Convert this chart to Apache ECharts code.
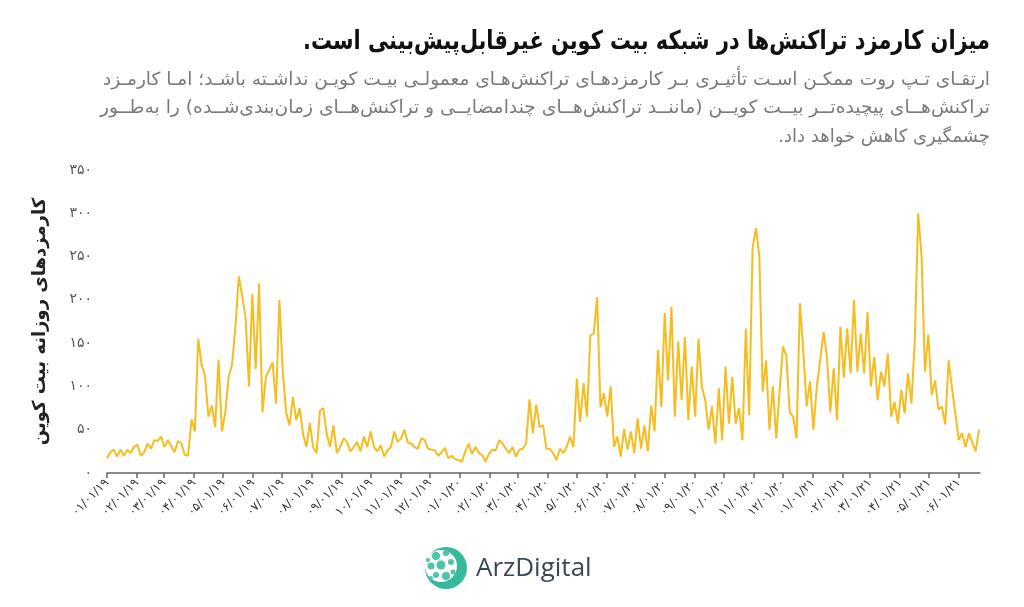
<!DOCTYPE html>
<html><head><meta charset="utf-8">
<script src="https://cdn.jsdelivr.net/npm/echarts@6/dist/echarts.min.js"></script>
<style>html,body{margin:0;padding:0;background:#fff}#c{width:1024px;height:607px}</style>
</head><body><div id="c"></div>
<script>
// ---- data ----
const stepDays = 3.5; // one value every 3.5 days starting 01/01/2019
const fees = [
 17,24,27,19,27,20,27,23, 30,33,20,24,34,28,38,37, 42,30,38,31,24,37,34,21,
 20,62,48,155,125,112,65,78, 53,131,48,70,111,125,169,227, 204,180,100,207,120,219,70,111,
 119,128,80,200,118,70,55,88, 61,75,45,30,58,30,23,72, 75,45,30,55,23,30,40,36,
 25,30,36,25,42,30,48,30, 25,32,19,26,30,48,36,40, 50,35,34,30,28,40,38,28,
 27,26,20,24,29,17,20,16, 15,13,25,34,22,30,23,21, 13,22,27,26,38,34,28,23,
 30,19,27,28,34,85,46,79, 53,55,28,28,23,15,28,23, 30,42,30,109,59,104,65,159,
 161,203,76,92,65,100,30,42, 19,51,27,48,23,63,28,55, 25,78,48,142,76,185,107,192,
 65,152,84,157,61,123,65,155, 100,84,50,77,34,98,38,123, 57,111,57,75,38,167,67,260,
 283,250,94,130,50,100,40,95, 146,135,70,65,40,196,142,77, 106,50,100,130,163,134,70,121,
 61,169,110,167,115,200,117,161, 115,186,100,134,84,117,100,138, 65,82,57,96,69,115,80,154,
 300,250,117,160,90,107,73,77, 56,130,98,69,38,46,30,46, 35,25,50
];
const tickLabels = ['01/01/19','02/01/19','03/01/19','04/01/19','05/01/19','06/01/19','07/01/19','08/01/19','09/01/19','10/01/19','11/01/19','12/01/19',
 '01/01/20','02/01/20','03/01/20','04/01/20','05/01/20','06/01/20','07/01/20','08/01/20','09/01/20','10/01/20','11/01/20','12/01/20',
 '01/01/21','02/01/21','03/01/21','04/01/21','05/01/21','06/01/21'];
const titleText = 'میزان کارمزد تراکنش‌ها در شبکه بیت کوین غیرقابل‌پیش‌بینی است.';
const subtitleLines = [
 'ارتقـای تـپ روت ممکـن اسـت تأثیـری بـر کارمزدهـای تراکنش‌هـای معمولـی بیـت کویـن نداشـته باشـد؛ امـا کارمـزد',
 'تراکنش‌هــای پیچیده‌تــر بیــت کویــن (ماننــد تراکنش‌هــای چندامضایــی و تراکنش‌هــای زمان‌بندی‌شــده) را به‌طــور',
 'چشمگیری کاهش خواهد داد.'
];
const yAxisName = 'کارمزدهای روزانه بیت کوین';
const brand = 'ArzDigital';

// ---- helpers ----
const faDigits = '۰۱۲۳۴۵۶۷۸۹';
function fa(s){ return String(s).replace(/[0-9]/g, d => faDigits[d]); }
const t0 = Date.UTC(2019,0,1);
function dayOf(label){ const p = label.split('/').map(Number); return Math.round((Date.UTC(2000+p[2],p[0]-1,p[1])-t0)/86400000); }
const tickDays = tickLabels.map(dayOf);
const labelOfDay = {}; tickDays.forEach((d,i)=>{ labelOfDay[d] = tickLabels[i]; });
const seriesData = fees.map((v,i)=>[i*stepDays, v]);
const RLM = '\u200F';

const arFont = '"DejaVu Sans", "Noto Sans", sans-serif';
const mctx = document.createElement('canvas').getContext('2d');
function fitScale(text, font, target){ mctx.font = font; const w = mctx.measureText(text).width; return w > 0 ? target / w : 1; }

const chart = echarts.init(document.getElementById('c'), null, {renderer:'canvas'});
const titleFont = 'bold 26px '+arFont;
const subFont = '18px '+arFont;
const graphics = [
  {type:'text', x:990, y:42, scaleX: fitScale(titleText+RLM, titleFont, 687), style:{text: titleText+RLM, font:titleFont, fill:'#111', align:'right', verticalAlign:'middle'}},
];
const subTargets = [887, 890, null];
subtitleLines.forEach((t,i)=>graphics.push({type:'text', x:990, y:80+i*28.5,
  scaleX: subTargets[i] ? fitScale(t+RLM, subFont, subTargets[i]) : 1,
  style:{text:t+RLM, font:subFont, fill:'#7a7a7a', align:'right', verticalAlign:'middle'}}));
// logo
graphics.push({type:'circle', shape:{cx:446,cy:568,r:21}, style:{fill:'#37b99b'}});
graphics.push({type:'circle', shape:{cx:441,cy:566,r:16}, style:{fill:'#fff'}});
[[436,556,4],[446,553,3],[431,566,3.5],[441,565,4.5],[451,562,3],[436,575,3],[446,576,4],[431,578,2],[453,572,2.5],[428,560,2]].forEach(c=>
  graphics.push({type:'circle', shape:{cx:c[0],cy:c[1],r:c[2]}, style:{fill:'#4cc5a8'}}));
graphics.push({type:'text', x:476, y:569, style:{text:brand, font:'26px "Open Sans", Lato, sans-serif', fill:'#3a4856', align:'left', verticalAlign:'middle'}});

chart.setOption({
  animation:false,
  backgroundColor:'#fff',
  grid:{left:107, right:44, top:170, bottom:134, containLabel:false},
  xAxis:{type:'value', min:0, max:904,
    axisLine:{show:true, lineStyle:{color:'#666', width:1.5}},
    axisTick:{show:true, customValues:tickDays, length:5, lineStyle:{color:'#666', width:1.5}},
    axisLabel:{customValues:tickDays, rotate:45, formatter:v=>fa(labelOfDay[v]||''), color:'#333', fontSize:12, fontFamily:arFont, margin:8},
    splitLine:{show:false}},
  yAxis:{type:'value', min:0, max:350, interval:50,
    axisLine:{show:false}, axisTick:{show:false}, splitLine:{show:false},
    axisLabel:{formatter:v=>fa(v), color:'#555', fontSize:14, fontFamily:arFont, margin:15},
    name:yAxisName, nameLocation:'middle', nameRotate:90, nameGap:58,
    nameTextStyle:{fontSize:18, fontWeight:'bold', color:'#222', fontFamily:arFont}},
  series:[{type:'line', data:seriesData, showSymbol:false, lineStyle:{color:'#F5BD1F', width:2}, itemStyle:{color:'#F5BD1F'}}],
  graphic:graphics
});
</script></body></html>
